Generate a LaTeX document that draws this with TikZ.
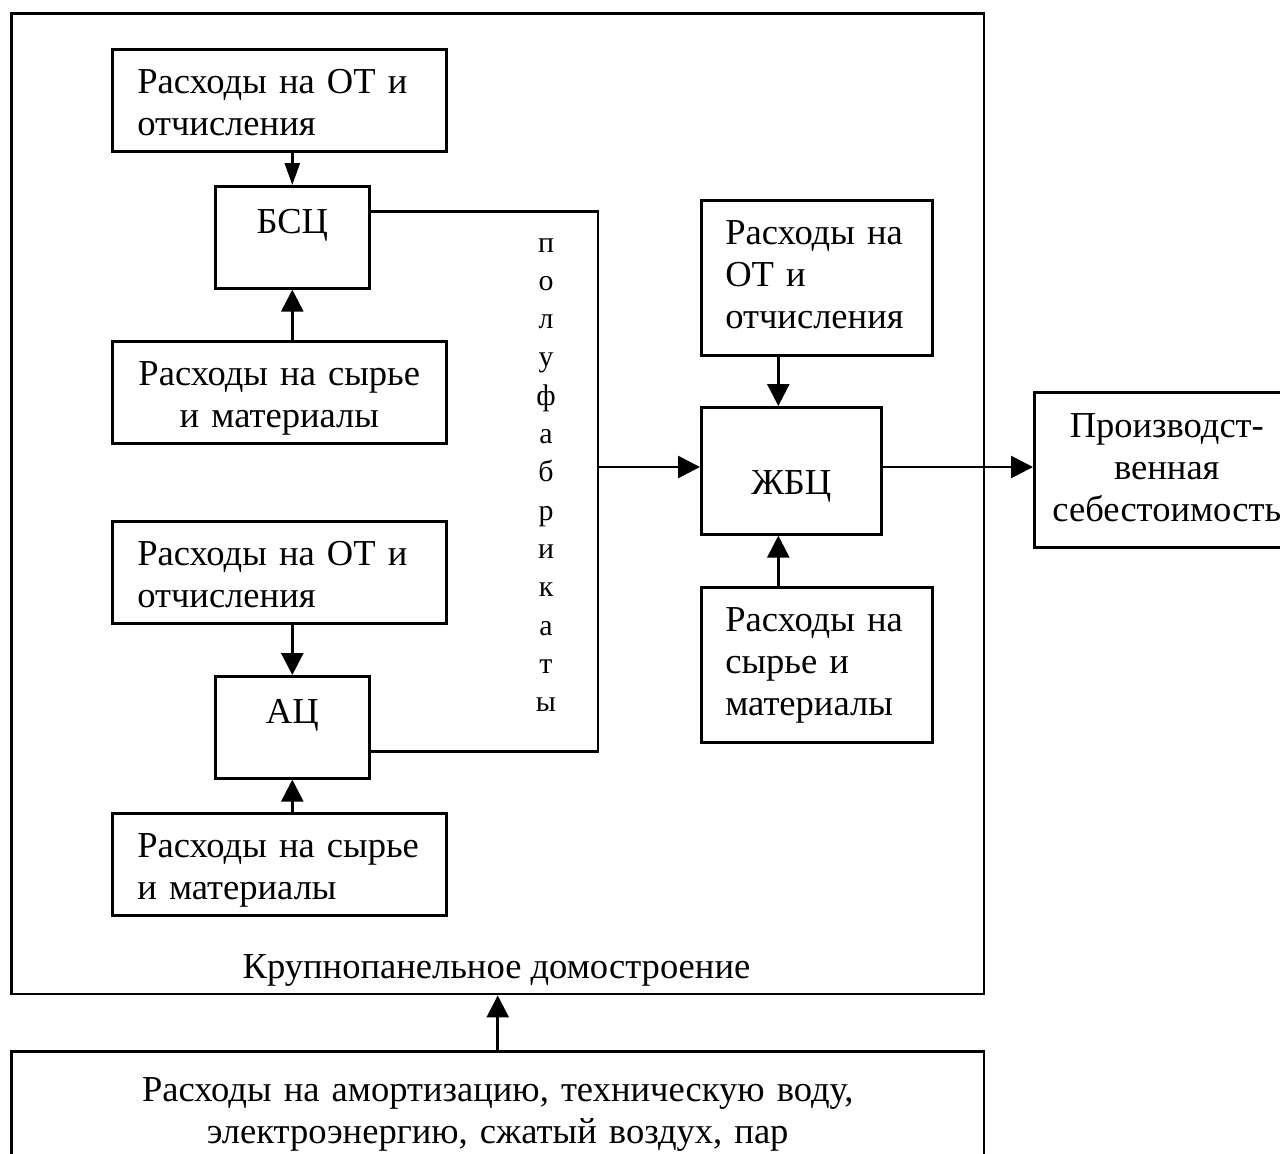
\documentclass[tikz,border=0pt]{standalone}
\usepackage{fontspec}
\setmainfont{Liberation Serif}
\usetikzlibrary{positioning,calc,arrows.meta}
\newcommand{\cellfont}{\fontsize{20.8}{23.9}\selectfont}
\newcommand{\letterfont}{\fontsize{17}{20}\selectfont}

\begin{document}
\begin{tikzpicture}[x=0.02cm, y=-0.02cm,
  block/.style={draw, line width=1.5pt, inner ysep=0pt, anchor=north west, font=\cellfont},
  widebox/.style={block, align=left, inner xsep=0.5cm, text width=5.68cm, text height=0.88cm, text depth=1.16cm},
  widecenter/.style={block, align=center, inner xsep=0pt, text width=6.68cm, text height=0.88cm, text depth=1.16cm},
  tallbox/.style={block, align=left, inner xsep=0.48cm, text width=3.66cm, text height=0.88cm, text depth=2.22cm},
  shop/.style={block, align=center, inner xsep=0pt, text width=3.08cm, text height=0.94cm, text depth=1.1cm},
  letter/.style={anchor=base, font=\letterfont, inner sep=0pt},
  arr/.style={line width=1.5pt, -{Triangle[length=0.44cm, width=0.44cm]}},
  link/.style={line width=1.5pt}]
  \useasboundingbox (0,0) rectangle (1280,1153);

  % outer frame
  \node[block, minimum width=19.46cm, minimum height=19.62cm] (frame) at (10,12) {};
  \node[anchor=base, font=\cellfont] (framelabel) at (496.5,978) {Крупнопанельное домостроение};

  % left column
  \node[widebox] (ot1) at (111,48) {Расходы на ОТ и\\отчисления};
  \node[shop] (bsc) at (214,185) {БСЦ};
  \node[widecenter] (raw1) at (111,340) {Расходы на сырье\\и материалы};
  \node[widebox] (ot2) at (111,520) {Расходы на ОТ и\\отчисления};
  \node[shop] (ac) at (214,675) {АЦ};
  \node[widebox] (raw2) at (111,812) {Расходы на сырье\\и материалы};

  \draw[line width=1.5pt, -{Triangle[length=0.44cm, width=0.3cm]}] (bsc.north |- ot1.south) -- (bsc.north);
  \draw[arr] (bsc.south |- raw1.north) -- (bsc.south);
  \draw[arr] (ac.north |- ot2.south) -- (ac.north);
  \draw[arr] (ac.south |- raw2.north) -- (ac.south);

  % semi-finished products
  \coordinate (bus) at (598,467);
  \coordinate (bscout) at ([yshift=0.52cm]bsc.east);
  \coordinate (acout) at ([yshift=-0.48cm]ac.east);
  \draw[link] (bscout) -- (bscout -| bus) -- (acout -| bus) -- (acout);
  \foreach \ch [count=\k] in {п,о,л,у,ф,а,б,р,и,к,а,т,ы}
    \node[letter] (pf\k) at (546, {252 + 38.3*(\k-1)}) {\ch};

  % right column
  \node[tallbox] (ot3) at (700,199) {Расходы на\\ОТ и\\отчисления};
  \node[block, align=center, inner xsep=0pt, text width=3.6cm, text height=1.74cm, text depth=0.8cm] (zbc) at (700,406) {ЖБЦ};
  \node[tallbox] (raw3) at (700,586) {Расходы на\\сырье и\\материалы};
  \coordinate (zbctop) at ([xshift=-0.26cm]zbc.north);
  \coordinate (zbcbot) at ([xshift=-0.26cm]zbc.south);
  \draw[arr] (zbctop |- ot3.south) -- (zbctop);
  \draw[arr] (zbcbot |- raw3.north) -- (zbcbot);
  \draw[arr] (bus) -- (bus -| zbc.west);

  % result
  \node[block, align=center, inner xsep=0pt, text width=5.3cm, text height=0.9cm, text depth=2.2cm] (cost) at (1033,391) {Производст-\\венная\\себестоимость};
  \draw[arr] (bus -| zbc.east) -- (bus -| cost.west);

  % common expenses
  \node[block, align=center, inner xsep=0pt, text width=19.46cm, text height=1.0cm, text depth=1.12cm] (common) at (10,1050) {Расходы на амортизацию, техническую воду,\\электроэнергию, сжатый воздух, пар};
  \draw[arr] (common.north) -- (frame.south);
\end{tikzpicture}
\end{document}
